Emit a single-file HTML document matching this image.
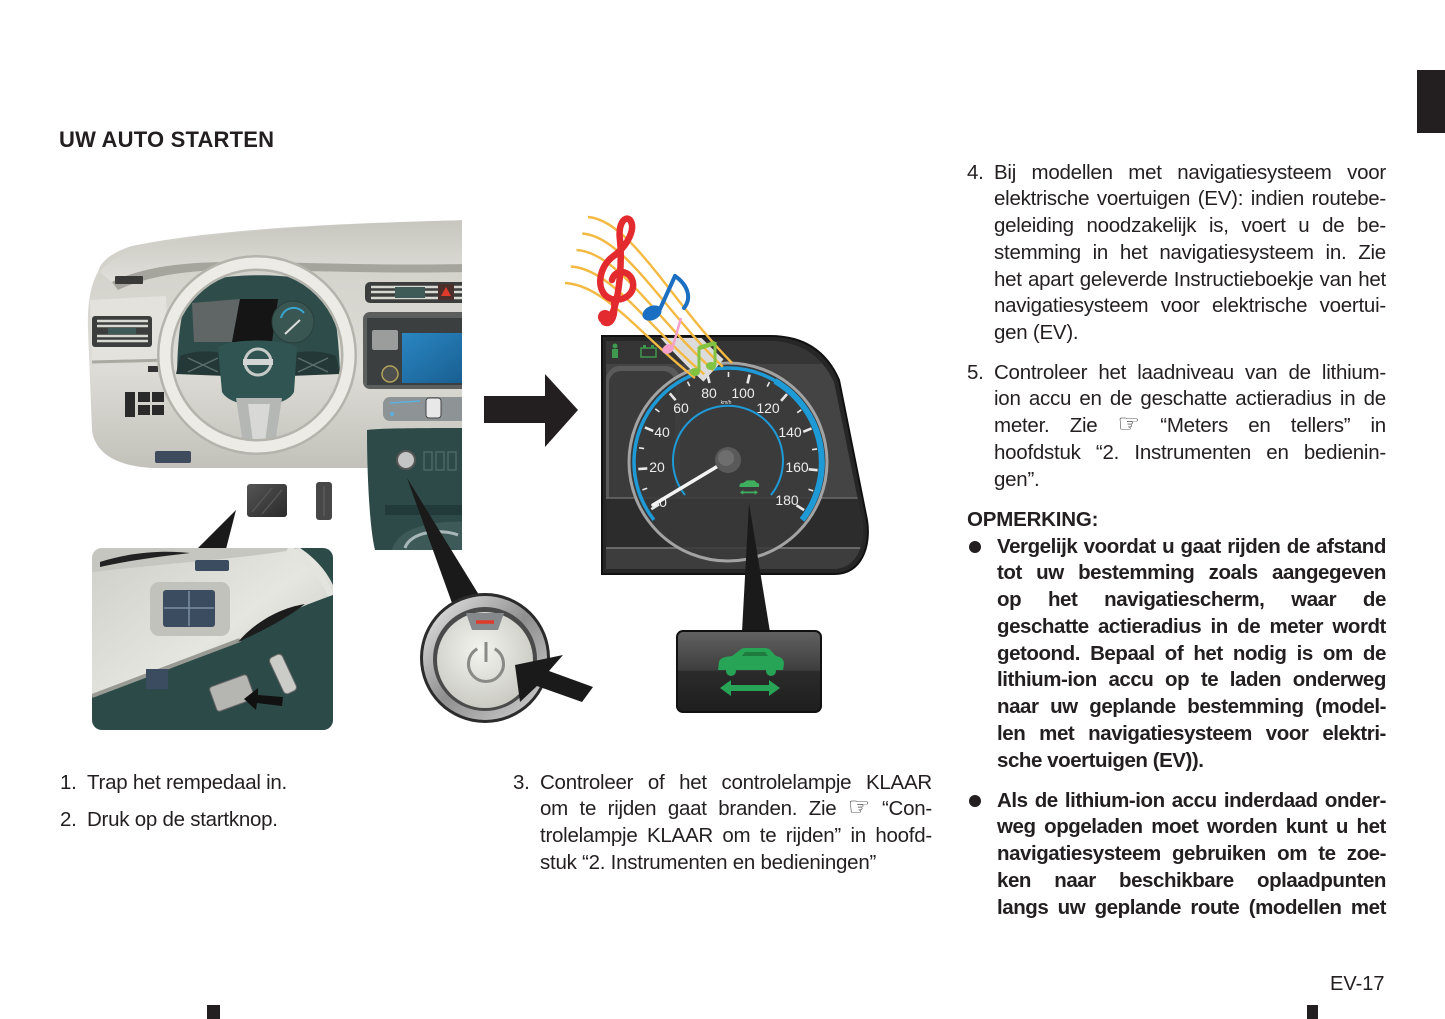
<!DOCTYPE html>
<html><head><meta charset="utf-8">
<style>
html,body{margin:0;padding:0;background:#fff;}
body{width:1445px;height:1019px;position:relative;overflow:hidden;font-family:"Liberation Sans",Arial,sans-serif;color:#231f20;}
.t{position:absolute;font-size:20.5px;letter-spacing:-0.25px;line-height:26.8px;white-space:nowrap;}
.j{display:flex;justify-content:space-between;align-items:baseline;height:26.8px;}
.b{font-weight:bold;letter-spacing:-0.45px;}
.h{font-family:"DejaVu Sans",sans-serif;font-size:25px;letter-spacing:0;line-height:20px;}
svg text{font-family:"Liberation Sans",Arial,sans-serif;}
</style></head><body>

<svg width="1445" height="1019" viewBox="0 0 1445 1019" style="position:absolute;left:0;top:0" xmlns="http://www.w3.org/2000/svg">
<defs>
<linearGradient id="dash" x1="0" y1="0" x2="0" y2="1"><stop offset="0" stop-color="#cfcec7"/><stop offset="0.6" stop-color="#dddcd6"/><stop offset="1" stop-color="#c2c1ba"/></linearGradient>
<linearGradient id="crown" x1="0" y1="0" x2="0" y2="1"><stop offset="0" stop-color="#c6c5be"/><stop offset="1" stop-color="#e0dfd9"/></linearGradient>
<radialGradient id="face" cx="0.45" cy="0.4" r="0.7"><stop offset="0" stop-color="#f4f4ef"/><stop offset="1" stop-color="#c4c4bd"/></radialGradient>
<linearGradient id="silver" x1="0" y1="0" x2="1" y2="1"><stop offset="0" stop-color="#ececec"/><stop offset="0.5" stop-color="#8f8f8f"/><stop offset="1" stop-color="#d4d4d4"/></linearGradient>
<linearGradient id="box" x1="0" y1="0" x2="0" y2="1"><stop offset="0" stop-color="#626262"/><stop offset="0.48" stop-color="#3e3e3e"/><stop offset="0.5" stop-color="#2b2b2b"/><stop offset="1" stop-color="#1e1e1e"/></linearGradient>
<linearGradient id="inset" x1="0" y1="0" x2="1" y2="1"><stop offset="0" stop-color="#cfcfc9"/><stop offset="0.5" stop-color="#e6e6e1"/><stop offset="1" stop-color="#bdbdb6"/></linearGradient>
<linearGradient id="scr" x1="0" y1="0" x2="1" y2="1"><stop offset="0" stop-color="#2a86c2"/><stop offset="1" stop-color="#175c8e"/></linearGradient>
<linearGradient id="ped" x1="0" y1="0" x2="1" y2="1"><stop offset="0" stop-color="#555"/><stop offset="1" stop-color="#2a2a2a"/></linearGradient>
<clipPath id="insetClip"><rect x="92" y="548" width="241" height="182" rx="10"/></clipPath>
<clipPath id="clIn"><path d="M606,341 L768,341 C798,341 821,354 834,382 L862,520 C866,542 858,569 833,569 L606,569 Z"/></clipPath>
<clipPath id="below"><rect x="600" y="338" width="160" height="60"/></clipPath>
<clipPath id="dashClip"><rect x="0" y="0" width="462" height="1019"/></clipPath>
</defs>

<g clip-path="url(#dashClip)">
<!-- dashboard -->
<path d="M98,272 C100,262 112,252 132,246 C200,232 300,224 470,220 L470,468 L160,468 C120,468 95,455 92,430 L88,330 C87,300 92,282 98,272 Z" fill="url(#dash)"/>
<path d="M100,272 C112,256 135,248 170,241 C250,229 350,223 470,220 L470,264 C380,266 300,262 230,262 C180,262 140,268 112,282 Z" fill="url(#crown)"/>
<path d="M112,282 C140,268 180,262 230,262 C300,262 380,266 470,264 L470,272 C380,274 300,270 230,270 C185,270 145,277 118,290 Z" fill="#a5a49d"/>
<path d="M90,300 L166,296 L168,360 L92,362 Z" fill="#e3e2dc"/>
<line x1="92" y1="362" x2="168" y2="360" stroke="#a9a8a1" stroke-width="3"/>
<rect x="115" y="276" width="28" height="8" rx="1" fill="#3a3a38"/>
<rect x="92" y="316" width="60" height="31" rx="3" fill="#3b3e3d"/>
<g stroke="#d8d8d2" stroke-width="2.5"><line x1="97" y1="321" x2="148" y2="321"/><line x1="97" y1="326" x2="148" y2="326"/><line x1="97" y1="336" x2="148" y2="336"/><line x1="97" y1="341" x2="148" y2="341"/></g>
<rect x="108" y="328" width="28" height="6" fill="#3f5b58"/>
<rect x="365" y="282" width="110" height="21" rx="5" fill="#3b3e3d"/>
<g stroke="#d8d8d2" stroke-width="2.5"><line x1="371" y1="287" x2="470" y2="287"/><line x1="371" y1="292" x2="470" y2="292"/><line x1="371" y1="298" x2="470" y2="298"/></g>
<rect x="395" y="287" width="30" height="11" fill="#3f5b58"/>
<rect x="438" y="284" width="16" height="16" fill="#4a2f2c"/><polygon points="446,287 451,296 441,296" fill="#e03a2a"/>
<rect x="125" y="392" width="10" height="25" fill="#2a2a2a"/>
<rect x="138" y="392" width="12" height="10" fill="#2a2a2a"/><rect x="152" y="392" width="12" height="10" fill="#2a2a2a"/>
<rect x="138" y="405" width="12" height="10" fill="#2a2a2a"/><rect x="152" y="405" width="12" height="10" fill="#2a2a2a"/>
<rect x="148" y="366" width="10" height="6" fill="#333"/>
<rect x="155" y="451" width="36" height="12" rx="2" fill="#3d4b5c"/>
<!-- center stack -->
<rect x="363" y="312" width="115" height="77" rx="7" fill="#5c5f5e"/>
<rect x="367" y="318" width="110" height="67" fill="#3c3f3f"/>
<rect x="372" y="330" width="26" height="20" rx="2" fill="#9a9d9c"/>
<circle cx="390" cy="374" r="8" fill="#4d4f4f" stroke="#b3a45a" stroke-width="1.5"/>
<rect x="402" y="333" width="70" height="50" fill="url(#scr)"/>
<rect x="383" y="397" width="90" height="24" rx="7" fill="#8e9495"/>
<line x1="390" y1="403" x2="420" y2="401" stroke="#5ab0e0" stroke-width="1.5"/>
<circle cx="392" cy="414" r="2" fill="#5ab0e0"/>
<rect x="426" y="398" width="15" height="20" rx="3" fill="#e8e8e8" stroke="#444"/>
<rect x="420" y="436" width="50" height="8" fill="#8a8a86"/><rect x="445" y="436" width="25" height="8" fill="#222"/>
<!-- console -->
<path d="M367,430 C380,428 430,428 470,428 L470,550 L375,550 C370,530 367,480 367,430 Z" fill="#2d4a48"/>
<circle cx="406" cy="460" r="9" fill="#c4c6c5" stroke="#555" stroke-width="2"/>
<g fill="none" stroke="#4d6866" stroke-width="1.5"><rect x="424" y="452" width="8" height="18"/><rect x="436" y="452" width="8" height="18"/><rect x="448" y="452" width="8" height="18"/></g>
<rect x="385" y="505" width="85" height="10" fill="#223a39"/>
<path d="M392,550 C398,525 440,520 470,522 L470,550 Z" fill="#3e5a58"/>
<path d="M405,548 C410,532 440,528 458,535" fill="none" stroke="#a8b8b8" stroke-width="3"/>
</g>
<!-- steering wheel -->
<path d="M177,372 C178,330 182,300 195,285 C220,272 300,272 322,285 C335,300 338,330 340,372 Z" fill="#2e4c4a"/>
<polygon points="192,303 240,299 232,342 194,342" fill="#606666"/>
<polygon points="240,299 278,299 272,342 232,342" fill="#151515"/>
<circle cx="293" cy="322" r="21" fill="#3a5653" stroke="#2a3f3d"/>
<path d="M281,318 A13,13 0 0 1 304,313" fill="none" stroke="#3aa6d0" stroke-width="2"/>
<line x1="285" y1="334" x2="300" y2="320" stroke="#ddd" stroke-width="2"/>
<path d="M176,374 L180,356 C195,350 215,350 226,355 L226,376 Z" fill="#243837"/>
<path d="M340,374 L336,356 C321,350 300,350 290,355 L290,376 Z" fill="#243837"/>
<g stroke="#5a6e6c" stroke-width="1.5"><line x1="188" y1="358" x2="218" y2="372"/><line x1="188" y1="372" x2="218" y2="358"/><line x1="298" y1="358" x2="328" y2="372"/><line x1="298" y1="372" x2="328" y2="358"/></g>
<path d="M218,348 C225,338 290,338 297,348 L294,392 C285,410 232,410 222,392 Z" fill="#2f5451"/>
<polygon points="236,398 282,398 274,450 244,450" fill="#b5b7b5"/>
<polygon points="248,404 270,404 265,442 253,442" fill="#d8d9d7"/>
<circle cx="258" cy="362" r="13" fill="none" stroke="#c6cac9" stroke-width="3"/>
<rect x="243" y="359" width="30" height="6" fill="#d3d6d5"/>
<circle cx="257" cy="355" r="92" fill="none" stroke="#b4b3ac" stroke-width="16"/>
<circle cx="257" cy="355" r="92" fill="none" stroke="#ecebe6" stroke-width="11"/>
<!-- pedals -->
<rect x="247" y="484" width="40" height="33" rx="3" fill="url(#ped)"/>
<g stroke="#555" stroke-width="1.5"><line x1="252" y1="512" x2="272" y2="488"/><line x1="262" y1="514" x2="282" y2="490"/></g>
<rect x="316" y="482" width="16" height="38" rx="3" fill="#474747"/>
<line x1="324" y1="486" x2="324" y2="516" stroke="#666"/>
<polygon points="236,510 197,549 226,549" fill="#1a1a1a"/>
<!-- inset -->
<g clip-path="url(#insetClip)">
<rect x="92" y="548" width="241" height="182" fill="url(#inset)"/>
<path d="M92,548 L300,548 C270,556 200,560 92,572 Z" fill="#c6c6c0"/>
<path d="M100,562 C130,552 165,550 190,553 C165,556 130,560 100,567 Z" fill="#222"/>
<path d="M300,548 L333,548 L333,585 C325,568 312,556 300,548 Z" fill="#2b4a48"/>
<path d="M288,548 C308,560 325,578 333,600" stroke="#e4e4df" stroke-width="6" fill="none"/>
<rect x="195" y="560" width="34" height="11" rx="2" fill="#3b4c61"/>
<rect x="150" y="582" width="80" height="54" rx="9" fill="#c2c2bc"/>
<rect x="163" y="590" width="52" height="37" rx="3" fill="#3b4c61"/>
<g stroke="#7d8fa6" stroke-width="1.5"><line x1="189" y1="591" x2="189" y2="626"/><line x1="164" y1="608" x2="214" y2="608"/></g>
<path d="M92,696 L240,640 C262,625 285,612 333,595 L333,730 L92,730 Z" fill="#2b4a48"/>
<path d="M92,696 L240,640" stroke="#9a9a94" stroke-width="4"/>
<path d="M238,642 C255,622 280,608 305,604 C290,616 265,630 238,642 Z" fill="#1c1c1c"/>
<rect x="146" y="669" width="22" height="20" fill="#3b4c61"/>
<rect x="276" y="654" width="14" height="40" rx="4" fill="#cbccc8" stroke="#6a6a6a" transform="rotate(-25 283 674)"/>
<rect x="212" y="680" width="40" height="26" rx="3" fill="#b5b5b2" stroke="#666" transform="rotate(-20 232 693)"/>
<polygon points="244,699 258,688 258,695 283,697 282,706 257,703 256,710" fill="#111"/>
</g>
<!-- pointer to button -->
<polygon points="407,478 452,603 479,595" fill="#1a1a1a"/>
<!-- start button -->
<circle cx="485" cy="658" r="65" fill="#2b2b2b"/>
<circle cx="485" cy="658" r="62" fill="url(#silver)"/>
<circle cx="485" cy="659" r="52" fill="#4a4a4a"/>
<circle cx="485" cy="660" r="48" fill="url(#face)"/>
<path d="M466,613 L504,613 L498,630 L472,630 Z" fill="#85898c"/>
<line x1="476" y1="622" x2="494" y2="622" stroke="#e03a2a" stroke-width="3.5"/>
<path d="M477.25,648.8 A17.5,17.5 0 1 0 494.75,648.8" fill="none" stroke="#8a8a86" stroke-width="3"/>
<line x1="486" y1="642" x2="486" y2="662" stroke="#8a8a86" stroke-width="3"/>
<polygon points="515,665 563,655 549,671 593,687 582,702 537,686 520,702" fill="#1a1a1a"/>
<!-- big arrow -->
<polygon points="484,396 545,396 545,374 578,410 545,447 545,423 484,423" fill="#231f20"/>
<!-- cluster -->
<path d="M602,336 L770,336 C802,336 826,350 839,380 L867,520 C871,546 862,574 834,574 L602,574 Z" fill="#262626" stroke="#111" stroke-width="2"/>
<g clip-path="url(#clIn)">
<rect x="600" y="340" width="270" height="235" fill="#444"/>
<rect x="600" y="340" width="270" height="24" fill="#353535"/>
<rect x="606" y="366" width="74" height="166" rx="14" fill="#5a5a5a"/>
<rect x="609" y="371" width="66" height="156" rx="12" fill="#3b3b3b"/>
<rect x="600" y="498" width="270" height="50" fill="#2c2c2c"/>
<line x1="600" y1="498" x2="870" y2="498" stroke="#6b6b6b" stroke-width="1.5"/>
<line x1="600" y1="548" x2="870" y2="548" stroke="#7a7a7a" stroke-width="1.5"/>
<rect x="600" y="549" width="270" height="22" fill="#3d3d3d"/>
</g>
<g fill="#3f9a4f"><circle cx="615" cy="346" r="2.5"/><rect x="612" y="349" width="6" height="9"/><rect x="641" y="348" width="15" height="9" fill="none" stroke="#3f9a4f" stroke-width="1.5"/><rect x="643" y="345" width="3" height="3"/><rect x="651" y="345" width="3" height="3"/></g>
<!-- speedometer -->
<circle cx="728" cy="462" r="99" fill="#3a3a3a" fill-opacity="0.85" stroke="#a3a3a3" stroke-width="3"/>
<path d="M653.9,519.9 A94,94 0 1 1 802.1,519.9" fill="none" stroke="#1e9bd7" stroke-width="3.5"/>
<path d="M775,381 A94,94 0 0 1 802.1,519.9" fill="none" stroke="#1e9bd7" stroke-width="6"/>
<path d="M685,495 A55,55 0 1 1 771,495" fill="none" stroke="#1e9bd7" stroke-width="2"/>
<g stroke="#e8e8e8" stroke-width="2.6">
<line x1="659" y1="504.4" x2="651.3" y2="509.2"/><line x1="647.3" y1="468.4" x2="638.3" y2="469.1"/><line x1="653.2" y1="430.9" x2="644.9" y2="427.4"/><line x1="675.6" y1="400.2" x2="669.8" y2="393.4"/><line x1="709.5" y1="383.1" x2="707.4" y2="374.4"/><line x1="747.5" y1="383.4" x2="749.6" y2="374.6"/><line x1="781.1" y1="400.9" x2="787" y2="394.1"/><line x1="803.2" y1="431.8" x2="811.5" y2="428.4"/><line x1="808.7" y1="469.3" x2="817.6" y2="470.2"/><line x1="796.5" y1="505.3" x2="804.1" y2="510.1"/>
</g>
<g stroke="#e8e8e8" stroke-width="1.6">
<line x1="647.2" y1="488.3" x2="642.4" y2="489.9"/><line x1="644.1" y1="448.6" x2="639.1" y2="447.8"/><line x1="659.4" y1="411.9" x2="655.3" y2="408.9"/><line x1="689.7" y1="386.1" x2="687.5" y2="381.6"/><line x1="728.5" y1="377" x2="728.5" y2="372"/><line x1="767.2" y1="386.6" x2="769.5" y2="382.1"/><line x1="797.2" y1="412.7" x2="801.3" y2="409.8"/><line x1="812.1" y1="449.7" x2="817" y2="448.9"/><line x1="808.5" y1="489.3" x2="813.2" y2="490.9"/>
</g>
<g fill="#ececec" font-size="14" text-anchor="middle">
<text x="663" y="507">0</text><text x="657" y="472">20</text><text x="662" y="437">40</text><text x="681" y="413">60</text><text x="709" y="398">80</text><text x="743" y="398">100</text><text x="768" y="413">120</text><text x="790" y="437">140</text><text x="797" y="472">160</text><text x="787" y="505">180</text>
<text x="726" y="404" font-size="5">km/h</text>
</g>
<line x1="728" y1="460" x2="653" y2="505" stroke="#f4f4f4" stroke-width="3.5" stroke-linecap="round"/>
<circle cx="728" cy="460" r="13" fill="#5a5a5a"/>
<circle cx="726" cy="458" r="8" fill="#6e6e6e"/>
<g transform="translate(749,487) scale(0.3) translate(-750,-670)" fill="#3fae5f">
<path d="M718,670 L719,662 C720,658 724,657 732,656 L740,650 C742,648 744,648 748,648 L764,648 C768,648 770,649 772,652 L776,656 C782,657 784,660 784,664 L783,670 Z"/>
<polygon points="720,688 731,680 731,685 769,685 769,680 780,688 769,696 769,691 731,691 731,696"/>
</g>
<!-- music staff -->
<g clip-path="url(#below)"><path d="M576.5,250 C617.5,252.5 655,317.5 713.5,370.5" fill="none" stroke="#dcdcdc" stroke-width="30"/></g>
<g fill="none" stroke="#f4b942" stroke-width="2.4">
<path d="M588,217 C630,220 670,300 732,363"/>
<path d="M582.25,233.5 C623.75,236.25 662.5,308.75 722.75,366.75"/>
<path d="M576.5,250 C617.5,252.5 655,317.5 713.5,370.5"/>
<path d="M570.75,266.5 C611.25,268.75 647.5,326.25 704.25,374.25"/>
<path d="M565,283 C605,285 640,335 695,378"/>
</g>
<g fill="none" stroke="#e32a2e" stroke-width="6.5" stroke-linecap="round">
<path d="M612,314 C620,296 622,260 620,240 C618,225 624,215 630,220 C636,228 628,245 615,255 C600,265 596,285 605,295 C615,305 635,298 633,283 C631,270 615,268 612,280"/>
<path d="M614,300 C616,318 610,326 604,322"/>
</g>
<circle cx="605" cy="317" r="7" fill="#e32a2e"/>
<ellipse cx="652" cy="313" rx="10" ry="7" fill="#1b6fc2" transform="rotate(-25 652 313)"/>
<g fill="none" stroke="#1b6fc2" stroke-width="4" stroke-linecap="round"><line x1="660" y1="309" x2="675" y2="276"/><path d="M675,276 C688,285 692,298 684,308"/></g>
<ellipse cx="668" cy="349" rx="6" ry="4.5" fill="#f4a0c8" transform="rotate(-25 668 349)"/>
<line x1="673" y1="346" x2="681" y2="318" stroke="#f4a0c8" stroke-width="2.5"/>
<g fill="#82c341"><ellipse cx="695" cy="372" rx="5" ry="4"/><ellipse cx="711" cy="366" rx="5" ry="4"/></g>
<g stroke="#82c341" stroke-width="3"><line x1="699" y1="371" x2="699" y2="347"/><line x1="715" y1="365" x2="715" y2="342"/><line x1="699" y1="348" x2="715" y2="343" stroke-width="4.5"/></g>
<!-- pointer to box -->
<polygon points="749,503 742,632 770,632" fill="#1a1a1a"/>
<rect x="677" y="631" width="144" height="81" rx="6" fill="url(#box)" stroke="#111" stroke-width="2"/>
<g fill="#27a455">
<path d="M718,670 L719,662 C720,658 724,657 732,656 L740,650 C742,648 744,648 748,648 L764,648 C768,648 770,649 772,652 L776,656 C782,657 784,660 784,664 L783,670 Z"/>
<circle cx="731" cy="671" r="5"/><circle cx="771" cy="671" r="5"/>
<polygon points="720,688 731,680 731,685 769,685 769,680 780,688 769,696 769,691 731,691 731,696"/>
</g>
<path d="M745,652 L765,652 L768,656 L742,656 Z" fill="#1f7a40"/>
<!-- page marks -->
<rect x="1417" y="70" width="28" height="63" fill="#231f20"/>
<rect x="207" y="1005" width="13" height="14" fill="#231f20"/>
<rect x="1307" y="1005" width="11" height="14" fill="#231f20"/>
<circle cx="975" cy="547" r="6" fill="#231f20"/>
<circle cx="975" cy="801" r="6" fill="#231f20"/>
</svg>

<div class="t b" style="left:59px;top:127px;font-size:22px;letter-spacing:0.2px;line-height:26px;">UW AUTO STARTEN</div>

<div class="t" style="left:60px;top:769.5px;">1.</div>
<div class="t" style="left:87px;top:769.5px;">Trap het rempedaal in.</div>
<div class="t" style="left:60px;top:806.5px;">2.</div>
<div class="t" style="left:87px;top:806.5px;">Druk op de startknop.</div>

<div class="t" style="left:513px;top:769.5px;">3.</div>
<div class="t" style="left:540px;top:769.5px;width:392px;">
<div class="j"><span>Controleer</span><span>of</span><span>het</span><span>controlelampje</span><span>KLAAR</span></div>
<div class="j"><span>om</span><span>te</span><span>rijden</span><span>gaat</span><span>branden.</span><span>Zie</span><span class="h">☞</span><span>“Con-</span></div>
<div class="j"><span>trolelampje</span><span>KLAAR</span><span>om</span><span>te</span><span>rijden”</span><span>in</span><span>hoofd-</span></div>
<div>stuk “2. Instrumenten en bedieningen”</div>
</div>

<div class="t" style="left:967px;top:159.5px;">4.</div>
<div class="t" style="left:994px;top:159.5px;width:392px;">
<div class="j"><span>Bij</span><span>modellen</span><span>met</span><span>navigatiesysteem</span><span>voor</span></div>
<div class="j"><span>elektrische</span><span>voertuigen</span><span>(EV):</span><span>indien</span><span>routebe-</span></div>
<div class="j"><span>geleiding</span><span>noodzakelijk</span><span>is,</span><span>voert</span><span>u</span><span>de</span><span>be-</span></div>
<div class="j"><span>stemming</span><span>in</span><span>het</span><span>navigatiesysteem</span><span>in.</span><span>Zie</span></div>
<div class="j"><span>het</span><span>apart</span><span>geleverde</span><span>Instructieboekje</span><span>van</span><span>het</span></div>
<div class="j"><span>navigatiesysteem</span><span>voor</span><span>elektrische</span><span>voertui-</span></div>
<div>gen (EV).</div>
</div>

<div class="t" style="left:967px;top:359.5px;">5.</div>
<div class="t" style="left:994px;top:359.5px;width:392px;">
<div class="j"><span>Controleer</span><span>het</span><span>laadniveau</span><span>van</span><span>de</span><span>lithium-</span></div>
<div class="j"><span>ion</span><span>accu</span><span>en</span><span>de</span><span>geschatte</span><span>actieradius</span><span>in</span><span>de</span></div>
<div class="j"><span>meter.</span><span>Zie</span><span class="h">☞</span><span>“Meters</span><span>en</span><span>tellers”</span><span>in</span></div>
<div class="j"><span>hoofdstuk</span><span>“2.</span><span>Instrumenten</span><span>en</span><span>bedienin-</span></div>
<div>gen”.</div>
</div>

<div class="t b" style="left:967px;top:506.5px;letter-spacing:-0.2px;">OPMERKING:</div>

<div class="t b" style="left:997px;top:533.5px;width:389px;">
<div class="j"><span>Vergelijk</span><span>voordat</span><span>u</span><span>gaat</span><span>rijden</span><span>de</span><span>afstand</span></div>
<div class="j"><span>tot</span><span>uw</span><span>bestemming</span><span>zoals</span><span>aangegeven</span></div>
<div class="j"><span>op</span><span>het</span><span>navigatiescherm,</span><span>waar</span><span>de</span></div>
<div class="j"><span>geschatte</span><span>actieradius</span><span>in</span><span>de</span><span>meter</span><span>wordt</span></div>
<div class="j"><span>getoond.</span><span>Bepaal</span><span>of</span><span>het</span><span>nodig</span><span>is</span><span>om</span><span>de</span></div>
<div class="j"><span>lithium-ion</span><span>accu</span><span>op</span><span>te</span><span>laden</span><span>onderweg</span></div>
<div class="j"><span>naar</span><span>uw</span><span>geplande</span><span>bestemming</span><span>(model-</span></div>
<div class="j"><span>len</span><span>met</span><span>navigatiesysteem</span><span>voor</span><span>elektri-</span></div>
<div>sche voertuigen (EV)).</div>
</div>

<div class="t b" style="left:997px;top:787.5px;width:389px;">
<div class="j"><span>Als</span><span>de</span><span>lithium-ion</span><span>accu</span><span>inderdaad</span><span>onder-</span></div>
<div class="j"><span>weg</span><span>opgeladen</span><span>moet</span><span>worden</span><span>kunt</span><span>u</span><span>het</span></div>
<div class="j"><span>navigatiesysteem</span><span>gebruiken</span><span>om</span><span>te</span><span>zoe-</span></div>
<div class="j"><span>ken</span><span>naar</span><span>beschikbare</span><span>oplaadpunten</span></div>
<div class="j"><span>langs</span><span>uw</span><span>geplande</span><span>route</span><span>(modellen</span><span>met</span></div>
</div>

<div class="t" style="left:1330px;top:971px;font-size:20px;letter-spacing:0;line-height:26px;">EV-17</div>

</body></html>
